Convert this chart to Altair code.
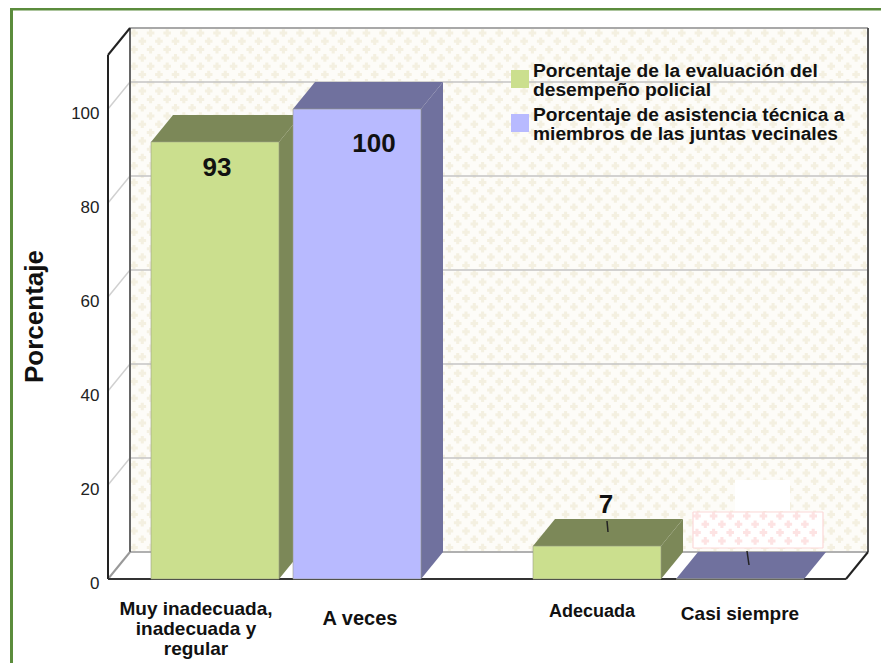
import altair as alt
import pandas as pd

# ---- values ----
categories = ["Muy inadecuada, inadecuada y regular", "A veces", "Adecuada", "Casi siempre"]
values = [93, 100, 7, 0]
legend_names = ["Porcentaje de la evaluación del|desempeño policial",
                "Porcentaje de asistencia técnica a|miembros de las juntas vecinales"]
series = [legend_names[0], legend_names[1], legend_names[0], legend_names[1]]
value_labels = ["93", "100", "7"]
y_ticks = [0, 20, 40, 60, 80, 100]
cat_labels = ["Muy inadecuada,\ninadecuada y\nregular", "A veces", "Adecuada", "Casi siempre"]

# ---- layout ----
SCALE = 4.70
BASE = 579
PAGE_BOTTOM = 663
PAGE_RIGHT = 881
def val(py):
    return (BASE - py) / SCALE
DX, DY = 22, val(552)
X0, X1 = 108, 846
TOP = val(55)
BAR_W = 128
BAR_X = [151, 293, 533, 676]
FRONT = ["#cbdf8e", "#b8baff"]
DARK = ["#7c8858", "#70719e"]

xs = alt.Scale(domain=[8, PAGE_RIGHT], range=[0, PAGE_RIGHT - 8], nice=False, zero=False)
ys = alt.Scale(domain=[val(PAGE_BOTTOM), val(8)], range=[PAGE_BOTTOM - 8, 0], nice=False, zero=False)
y_axis = alt.Axis(
    values=y_ticks, domain=False, ticks=False, grid=False, offset=-100, labelPadding=9,
    labelFont="Liberation Sans", labelFontSize=17, labelColor="#222222", labelOffset=4,
    title="Porcentaje", titleFont="Liberation Sans", titleFontSize=26, titleFontWeight="bold",
    titleColor="#111111", titleX=-61, titleY=308, titleAngle=-90)
X = lambda f: alt.X(f, type="quantitative", scale=xs, axis=None)
Y = lambda f: alt.Y(f, type="quantitative", scale=ys, axis=y_axis)


def rects(rows):
    df = pd.DataFrame(rows, columns=["x", "x2", "y", "y2", "c"])
    return alt.Chart(df).mark_rect().encode(
        x=X("x"), x2="x2", y=Y("y"), y2="y2", color=alt.Color("c:N", scale=None))


def segs(rows):
    df = pd.DataFrame(rows, columns=["x", "x2", "y", "y2", "c", "w"])
    return alt.Chart(df).mark_rule().encode(
        x=X("x"), x2="x2", y=Y("y"), y2="y2",
        color=alt.Color("c:N", scale=None),
        strokeWidth=alt.StrokeWidth("w:Q", scale=None))


def crosses(x0, x1, p0, p1, color, size=58):
    rows, r = [], 0
    py = p0 + 4
    while py < p1 - 2:
        px = x0 + (4 if r % 2 == 0 else 12.3)
        while px < x1 - 2:
            rows.append({"x": px, "y": val(py)})
            px += 16.6
        py += 8.3
        r += 1
    return alt.Chart(pd.DataFrame(rows)).mark_point(
        shape="cross", filled=True, size=size, opacity=1, color=color, strokeWidth=0
    ).encode(x=X("x"), y=Y("y"))


# page frame
frame = rects([[10, 13, val(8), val(PAGE_BOTTOM), "#5b8c3c"], [10, PAGE_RIGHT, val(8), val(10.5), "#5b8c3c"]])

# wall
wall = rects([[X0 + DX, X1 + DX, TOP + DY, DY, "#fdfcf8"]])
wall_pattern = crosses(X0 + DX, X1 + DX, 29, 552, "#f4f0e1")

# grid and frame lines
grid_rows = []
for t in y_ticks[1:]:
    grid_rows.append([X0, X0 + DX, t, t + DY, "#d0d0d0", 1.5])
    grid_rows.append([X0 + DX, X1 + DX, t + DY, t + DY, "#c4c4c4", 1.5])
grid_rows += [
    [X0 + DX, X1 + DX, DY, DY, "#b0b0b0", 2],
    [X0 + DX, X1 + DX, TOP + DY, TOP + DY, "#a8a8a8", 2],
    [X0 + DX, X0 + DX, DY, TOP + DY, "#666666", 2],
    [X1 + DX, X1 + DX, DY, TOP + DY, "#555555", 2],
    [X0, X0 + DX, 0, DY, "#999999", 2],
    [X1, X1 + DX, 0, DY, "#222222", 2],
    [X0, X0 + DX, TOP, TOP + DY, "#222222", 2],
    [X0, X0, 0, TOP, "#222222", 2],
    [X0, X1, 0, 0, "#333333", 2],
]
grid = segs(grid_rows)

# erased label patches near the empty bar
patch = rects([[693, 823, val(512), val(548), "#ffffff"], [735, 790, val(480), val(511), "#ffffff"]])
patch_pattern = crosses(693, 823, 512, 548, "#fde3e3")
patch_border = segs([
    [693, 823, val(512), val(512), "#fcd8d8", 1.2],
    [693, 823, val(548), val(548), "#fcd8d8", 1.2],
    [693, 693, val(512), val(548), "#fcd8d8", 1.2],
    [823, 823, val(512), val(548), "#fcd8d8", 1.2],
])

# bars: side and top faces
area_rows = []
for i, (bx, v) in enumerate(zip(BAR_X, values)):
    c = DARK[i % 2]
    side = f"s{i}"
    top = f"t{i}"
    area_rows += [
        {"id": side, "x": bx + BAR_W, "y": 0, "y2": v, "c": c},
        {"id": side, "x": bx + BAR_W + DX, "y": DY, "y2": v + DY, "c": c},
        {"id": top, "x": bx, "y": v, "y2": v, "c": c},
        {"id": top, "x": bx + DX, "y": v, "y2": v + DY, "c": c},
        {"id": top, "x": bx + BAR_W, "y": v, "y2": v + DY, "c": c},
        {"id": top, "x": bx + BAR_W + DX, "y": v + DY, "y2": v + DY, "c": c},
    ]
faces = alt.Chart(pd.DataFrame(area_rows)).mark_area(interpolate="linear", opacity=1).encode(
    x=X("x"), y=Y("y"), y2="y2", detail="id:N", color=alt.Color("c:N", scale=None))

# bars: front faces
front_df = pd.DataFrame({
    "x": BAR_X, "x2": [b + BAR_W for b in BAR_X], "v": values, "z": [0] * 4, "serie": series, "cat": categories,
})
front = alt.Chart(front_df).mark_rect(stroke="#9a9f86", strokeWidth=0.6).encode(
    x=X("x"), x2="x2", y=Y("v"), y2="z",
    color=alt.Color("serie:N", scale=alt.Scale(domain=legend_names, range=FRONT), legend=None),
)

# legend: swatches and two-line names
swatches = rects([[511, 529, val(70), val(88), FRONT[0]], [511, 529, val(114), val(132), FRONT[1]]])
legend_df = pd.DataFrame({"x": [533, 533], "y": [val(71), val(115)], "t": legend_names})
legend_text = alt.Chart(legend_df).mark_text(
    font="Liberation Sans", fontSize=19.2, fontWeight="bold", color="#111111",
    align="left", baseline="middle", lineBreak="|", lineHeight=19
).encode(x=X("x"), y=Y("y"), text="t:N")

# leader lines
leaders = segs([[607, 608, val(521), val(532), "#222222", 1.5],
                [747, 749, val(551), val(565), "#222222", 1.5]])

# value labels
vl_df = pd.DataFrame({"x": [217, 374, 606], "y": [val(168), val(144), val(505)], "t": value_labels})
vlabels = alt.Chart(vl_df).mark_text(
    font="Liberation Sans", fontSize=26, fontWeight="bold", color="#111111"
).encode(x=X("x"), y=Y("y"), text="t:N")

# category labels
cat_df = pd.DataFrame({"x": [196, 360, 592, 740], "y": [val(609), val(619), val(612), val(614)],
                       "t": cat_labels, "s": [19, 20, 18, 19]})
clabels = alt.Chart(cat_df).mark_text(
    font="Liberation Sans", fontWeight="bold", color="#111111", lineBreak="\n", lineHeight=20,
    baseline="middle"
).encode(x=X("x"), y=Y("y"), text="t:N", size=alt.Size("s:Q", scale=None, legend=None))

chart = alt.layer(
    frame, wall, wall_pattern, grid, patch, patch_pattern, patch_border,
    faces, front, swatches, legend_text, leaders, vlabels, clabels
).properties(
    width=PAGE_RIGHT - 8, height=PAGE_BOTTOM - 8, padding=0,
    autosize=alt.AutoSizeParams(type="none"),
    background="white"
).configure_view(stroke=None)

chart.save("out.html", embed_options={"renderer": "svg", "actions": False})
